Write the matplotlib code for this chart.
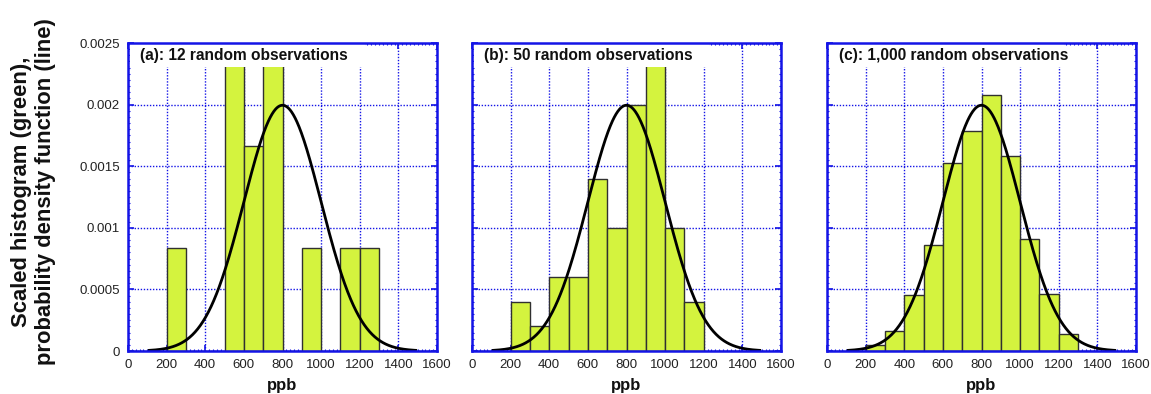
import numpy as np
import matplotlib
matplotlib.use("Agg")
import matplotlib.pyplot as plt
from matplotlib.ticker import MultipleLocator
from matplotlib.patches import Rectangle

plt.rcParams['font.family'] = ['Liberation Sans', 'DejaVu Sans']

# Data
bin_edges = [0, 100, 200, 300, 400, 500, 600, 700, 800, 900, 1000, 1100, 1200, 1300, 1400, 1500, 1600]
bin_lefts = bin_edges[:-1]
bin_width = 100

# counts per 100-ppb bin
counts_a = [0, 0, 1, 0, 0, 3, 2, 3, 0, 1, 0, 1, 1, 0, 0, 0]          # 12 obs
counts_b = [0, 0, 2, 1, 3, 3, 7, 5, 10, 12, 5, 2, 0, 0, 0, 0]        # 50 obs
counts_c = [0, 0, 5, 16, 45, 86, 152, 178, 207, 158, 91, 46, 14, 0, 0, 0]  # 1000 obs

titles = ["(a): 12 random observations",
          "(b): 50 random observations",
          "(c): 1,000 random observations"]
pdf_mean = 800.0
pdf_sd = 200.0

xticks = [0, 200, 400, 600, 800, 1000, 1200, 1400, 1600]
yticks = [0, 0.0005, 0.001, 0.0015, 0.002, 0.0025]
ytick_labels = ["0", "0.0005", "0.001", "0.0015", "0.002", "0.0025"]
ylabel_lines = ["Scaled histogram (green),", "probability density function (line)"]

fig = plt.figure(figsize=(11.51, 3.94), dpi=100)
W, H = 1151, 394
lefts_px = [128, 472, 827]
ax_w, ax_top, ax_bot = 309, 43, 351

blue = '#1414e6'
fill = '#d4f33e'

for i, (cnts, title) in enumerate(zip([counts_a, counts_b, counts_c], titles)):
    ax = fig.add_axes([lefts_px[i] / W, (H - ax_bot) / H, ax_w / W, (ax_bot - ax_top) / H])
    n = sum(cnts)
    dens = [c / (n * bin_width) for c in cnts]
    ax.bar(bin_lefts, dens, width=bin_width, align='edge', color=fill,
           edgecolor='#303030', linewidth=1.0, zorder=2)
    xs = np.linspace(110, 1490, 600)
    ys = np.exp(-0.5 * ((xs - pdf_mean) / pdf_sd) ** 2) / (pdf_sd * np.sqrt(2 * np.pi))
    ax.plot(xs, ys, color='black', linewidth=2.0, zorder=3)

    ax.set_xlim(0, 1600)
    ax.set_ylim(0, 0.0025)
    ax.set_xticks(xticks)
    ax.set_xticklabels([str(t) for t in xticks])
    ax.set_yticks(yticks)
    if i == 0:
        ax.set_yticklabels(ytick_labels)
    else:
        ax.set_yticklabels([])
    ax.xaxis.set_minor_locator(MultipleLocator(20))
    ax.yaxis.set_minor_locator(MultipleLocator(0.00005))
    ax.tick_params(which='major', direction='in', length=4, width=1.2, color=blue,
                   top=True, right=True, labelsize=9.5, pad=6, labelcolor='#222222')
    ax.tick_params(which='minor', direction='in', length=1.5, width=0.8, color=blue,
                   top=True, right=True)
    ax.grid(True, which='major', color=blue, linestyle=(0, (1, 1.2)), linewidth=1.0, zorder=1)
    ax.set_axisbelow(True)
    for sp in ax.spines.values():
        sp.set_color(blue)
        sp.set_linewidth(1.8)
        sp.set_zorder(5)
    ax.add_patch(Rectangle((0.006, 0.923), 0.76, 0.074, transform=ax.transAxes,
                           facecolor='white', edgecolor='none', zorder=4))
    ax.text(0.04, 0.958, title, transform=ax.transAxes, ha='left', va='center',
            fontsize=11.2, fontweight='bold', color='#111111', zorder=6)
    ax.set_xlabel('ppb', fontsize=12, fontweight='bold', labelpad=5, color='#111111')

for line, xpx in zip(ylabel_lines, [22, 46]):
    fig.text(xpx / W, (H - 192) / H, line, rotation=90, ha='center', va='center',
             fontsize=15.8, fontweight='bold', color='#111111')

fig.savefig('out.png', dpi=100)
